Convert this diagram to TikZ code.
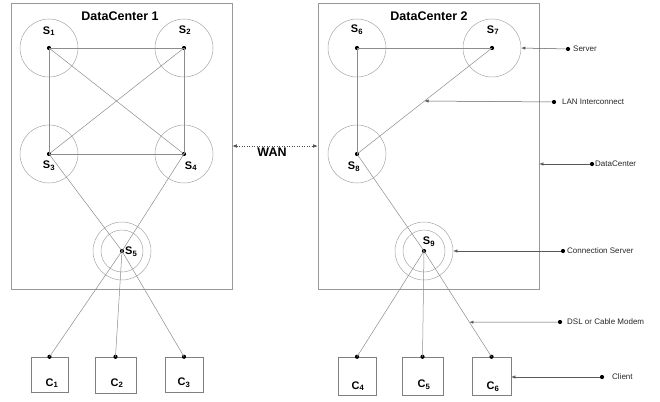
\documentclass[tikz,border=0pt]{standalone}
\usepackage{fontspec}
\setmainfont{Liberation Sans}
\usetikzlibrary{arrows.meta,calc}
\begin{document}
\begin{tikzpicture}[x=1pt,y=-1pt,
 link/.style={draw=black!45,line width=0.5pt},
 srv/.style={circle,draw=black!35,line width=0.5pt,minimum size=58pt,inner sep=0pt},
 ring/.style={circle,draw=black!35,line width=0.5pt,minimum size=42pt,inner sep=0pt},
 blob/.style={circle,fill=black,minimum size=4.2pt,inner sep=0pt},
 dcbox/.style={rectangle,draw=black!40,line width=0.6pt,minimum width=221pt,minimum height=286pt,inner sep=0pt},
 clientbox/.style={rectangle,draw=black!50,line width=0.5pt,inner sep=0pt},
 slbl/.style={font=\bfseries\fontsize{11}{12}\selectfont,inner sep=0pt},
 dctitle/.style={font=\bfseries\fontsize{12.5}{14}\selectfont,inner sep=0pt},
 legtext/.style={font=\fontsize{8}{10}\selectfont,anchor=west,inner sep=0pt,text=black!85},
 ann/.style={draw=black!65,line width=0.5pt,-{Latex[length=4pt,width=3.2pt]}},
]
\useasboundingbox (0,0) rectangle (660,401);

% data centre boxes
\node[dcbox] (dc1) at (121.5,146) {};
\node[dcbox] (dc2) at (428.5,146) {};
\node[dctitle] (t1) at (120,16) {DataCenter 1};
\node[dctitle] (t2) at (429,16) {DataCenter 2};

% servers DC1
\node[srv] (s1) at (49,48) {};
\node[srv] (s2) at (184,48) {};
\node[srv] (s3) at (49,154) {};
\node[srv] (s4) at (184,154) {};
\node[srv] (s5) at (122,251) {};
\node[ring] (r5) at (122,251) {};
% servers DC2
\node[srv] (s6) at (357,48) {};
\node[srv] (s7) at (492,48) {};
\node[srv] (s8) at (357,154) {};
\node[srv] (s9) at (424,251) {};
\node[ring] (r9) at (424,251) {};

% clients
\node[clientbox,minimum width=37pt,minimum height=35pt] (c1) at (49.5,374.5) {};
\node[clientbox,minimum width=41pt,minimum height=36pt] (c2) at (115.5,375) {};
\node[clientbox,minimum width=38pt,minimum height=35pt] (c3) at (184,374.5) {};
\node[clientbox,minimum width=38pt,minimum height=38pt] (c4) at (357,376) {};
\node[clientbox,minimum width=41pt,minimum height=38pt] (c5) at (422.5,376) {};
\node[clientbox,minimum width=39pt,minimum height=38pt] (c6) at (491.5,376) {};

% dots
\foreach \i in {1,...,9} {\node[blob] (d\i) at (s\i) {};}
\foreach \i in {1,...,6} {\node[blob] (e\i) at (c\i.north) {};}

% links DC1
\draw[link] (d1.center) -- (d2.center);
\draw[link] (d1.center) -- (d3.center);
\draw[link] (d1.center) -- (d4.center);
\draw[link] (d2.center) -- (d3.center);
\draw[link] (d2.center) -- (d4.center);
\draw[link] (d3.center) -- (d4.center);
\draw[link] (d3.center) -- (d5.center);
\draw[link] (d4.center) -- (d5.center);
\draw[link] (d5.center) -- (e1.center);
\draw[link] (d5.center) -- (e2.center);
\draw[link] (d5.center) -- (e3.center);
% links DC2
\draw[link] (d6.center) -- (d7.center);
\draw[link] (d6.center) -- (d8.center);
\draw[link] (d7.center) -- (d8.center);
\draw[link] (d8.center) -- (d9.center);
\draw[link] (d9.center) -- (e4.center);
\draw[link] (d9.center) -- (e5.center);
\draw[link] (d9.center) -- (e6.center);

% server labels
\node[slbl] (l1) at (49,31) {S\textsubscript{1}};
\node[slbl] (l2) at (185,30) {S\textsubscript{2}};
\node[slbl] (l3) at (49,166) {S\textsubscript{3}};
\node[slbl] (l4) at (191,166) {S\textsubscript{4}};
\node[slbl,anchor=west] (l5) at (125,252) {S\textsubscript{5}};
\node[slbl] (l6) at (357,30) {S\textsubscript{6}};
\node[slbl] (l7) at (493,30) {S\textsubscript{7}};
\node[slbl] (l8) at (354,167) {S\textsubscript{8}};
\node[slbl] (l9) at (429,242) {S\textsubscript{9}};

% client labels
\node[slbl] (k1) at (52,383) {C\textsubscript{1}};
\node[slbl] (k2) at (117,383) {C\textsubscript{2}};
\node[slbl] (k3) at (184,383) {C\textsubscript{3}};
\node[slbl] (k4) at (358,386) {C\textsubscript{4}};
\node[slbl] (k5) at (424,385) {C\textsubscript{5}};
\node[slbl] (k6) at (493,387) {C\textsubscript{6}};

% WAN
\draw[draw=black!70,line width=0.5pt,dotted,{Latex[length=4.5pt,width=3.5pt]}-{Latex[length=4.5pt,width=3.5pt]}] (dc1.east) -- (dc2.west);
\node[dctitle] (wan) at (272,152) {WAN};

% legend
\node[blob] (ls) at (568,49) {};
\node[legtext] (lst) at (573,49) {Server};
\node[blob] (ll) at (554,102) {};
\node[legtext] (llt) at (562,102) {LAN Interconnect};
\node[blob] (ld) at (592,164) {};
\node[legtext] (ldt) at (595,164) {DataCenter};
\node[blob] (lc) at (563,251) {};
\node[legtext] (lct) at (567,251) {Connection Server};
\node[blob] (lm) at (560,322) {};
\node[legtext] (lmt) at (567,322) {DSL or Cable Modem};
\node[blob] (lk) at (602,377) {};
\node[legtext] (lkt) at (612,377) {Client};

\coordinate (lanpt) at ($(d7)!0.5!(d8)$);
\coordinate (dslpt) at ($(d9)!0.673!(e6)$);
\draw[ann] (ls) -- (s7.east);
\draw[ann] (ll) -- (lanpt);
\draw[ann] (ld) -- (dc2.east |- ld);
\draw[ann] (lc) -- (s9.east);
\draw[ann] (lm) -- (dslpt);
\draw[ann] (lk) -- (c6.east |- lk);
\end{tikzpicture}
\end{document}
